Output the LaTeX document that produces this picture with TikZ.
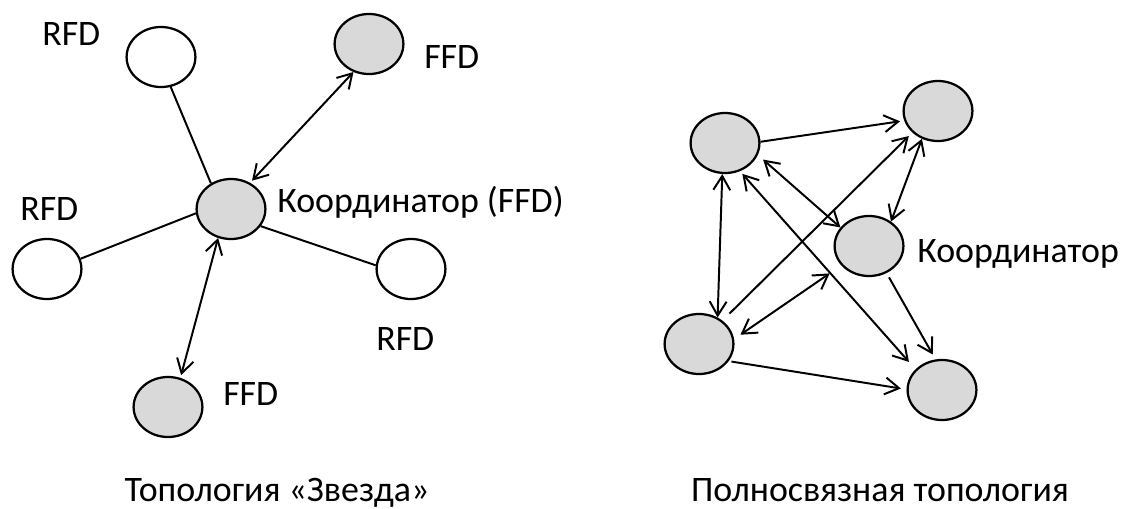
\documentclass[tikz,border=0pt]{standalone}
\usepackage{fontspec}
\setmainfont{Carlito}
\usetikzlibrary{arrows.meta,shapes.geometric}
\definecolor{nodegray}{gray}{0.85}
\tikzset{
  devW/.style={ellipse,draw,line width=1.6pt,fill=white,
    minimum width=1.72cm,minimum height=1.5cm,inner sep=0pt},
  devG/.style={devW,fill=nodegray},
  lnk/.style={line width=1.4pt},
  lnkA/.style={lnk,-{Straight Barb[length=10pt,width=12pt]}},
  lnkB/.style={lnk,{Straight Barb[length=10pt,width=12pt]}-{Straight Barb[length=10pt,width=12pt]}},
  tlab/.style={inner sep=0pt,anchor=base west,font=\fontsize{25.5}{30}\selectfont},
  capt/.style={tlab,anchor=base},
}

\begin{document}
\begin{tikzpicture}[x=0.025cm,y=-0.025cm]
  \useasboundingbox (0,0) rectangle (1130,508);
  % звезда: координатор в центре
  \node[devW] (rfdT) at (161,57) {};
  \node[devG] (ffdT) at (369,44) {};
  \node[devG] (crd)  at (231,209) {};
  \node[devW] (rfdL) at (47,269) {};
  \node[devW] (rfdR) at (411,269) {};
  \node[devG] (ffdB) at (168,407) {};
  \draw[lnk] (rfdT.288) -- (crd.128);
  \draw[lnkB,shorten >=2pt] (ffdT.241) -- (crd.54);
  \draw[lnk] (crd.187) -- (rfdL.17);
  \draw[lnk] (crd.330) -- (rfdR.174);
  \draw[lnkB,shorten >=2pt] (crd.246) -- (ffdB.67);
  \node[tlab] (tRfdT) at (42,45) {RFD};
  \node[tlab] (tFfdT) at (424,68) {FFD};
  \node[tlab] (tCrd)  at (277,212) {Координатор (FFD)};
  \node[tlab] (tRfdL) at (20,220) {RFD};
  \node[tlab] (tRfdR) at (376,350) {RFD};
  \node[tlab] (tFfdB) at (223,405) {FFD};
  \node[capt] (capStar) at (277,501) {Топология «Звезда»};

  % полносвязная сеть
  \node[devG] (mTL) at (725,143) {};
  \node[devG] (mTR) at (938,111) {};
  \node[devG] (mC)  at (869,246) {};
  \node[devG] (mBL) at (699,344) {};
  \node[devG] (mBR) at (942,390) {};
  \draw[lnkA,shorten >=3pt] (mTL.2) -- (mTR.196);
  \draw[lnkA,shorten <=7pt,shorten >=3.5pt] (mBL.45) -- (mTR.220);
  \draw[lnkB] (mTR.240) -- (mC.48);
  \draw[lnkB,shorten <=5pt] (mTL.340) -- (mC.147);
  \draw[lnkB,shorten <=2.5pt,shorten >=7pt] (mTL.298) -- (mBR.142);
  \draw[lnkB] (mTL.265) -- (mBL.55);
  \draw[lnkB,shorten <=5.5pt,shorten >=10pt] (mBL.8) -- (mC.215);
  \draw[lnkA,shorten <=3.5pt,shorten >=4pt] (mC.303) -- (mBR.102);
  \draw[lnkA,shorten <=2pt,shorten >=4pt] (mBL.330) -- (mBR.179);
  \node[tlab] (tMC) at (917,262) {Координатор};
  \node[capt] (capMesh) at (880,501) {Полносвязная топология};
\end{tikzpicture}
\end{document}
